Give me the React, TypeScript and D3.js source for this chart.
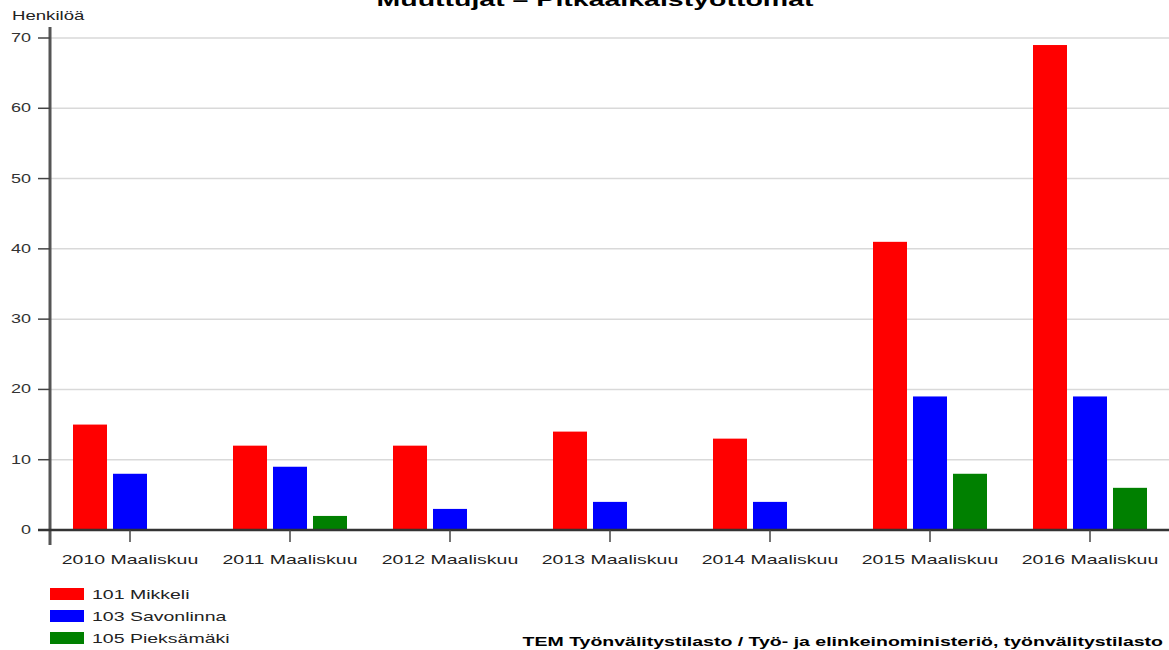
import React from 'react';
import * as d3 from 'd3';

const categories = [
  '2010 Maaliskuu',
  '2011 Maaliskuu',
  '2012 Maaliskuu',
  '2013 Maaliskuu',
  '2014 Maaliskuu',
  '2015 Maaliskuu',
  '2016 Maaliskuu',
];
const seriesNames = ['101 Mikkeli', '103 Savonlinna', '105 Pieksämäki'];
const mikkeli = [15, 12, 12, 14, 13, 41, 69];
const savonlinna = [8, 9, 3, 4, 4, 19, 19];
const pieksamaki = [0, 2, 0, 0, 0, 8, 6];
const yTicks = [0, 10, 20, 30, 40, 50, 60, 70];
const colors = ['#ff0000', '#0000ff', '#008000'];

const seriesValues = [mikkeli, savonlinna, pieksamaki];

const W = 1169;
const H = 650;
const font = 'Liberation Sans, Arial, sans-serif';
// the original picture is stretched sideways, so the text is too
const SX = 1.5;

type STextProps = {
  x: number;
  y: number;
  size: number;
  anchor?: 'start' | 'middle' | 'end';
  bold?: boolean;
  fill?: string;
  sx?: number;
  children: React.ReactNode;
};

const SText = ({ x, y, size, anchor = 'start', bold, fill = '#222', sx = SX, children }: STextProps) => (
  <text
    transform={`translate(${x},${y}) scale(${sx},1)`}
    textAnchor={anchor}
    fontSize={size}
    fontWeight={bold ? 'bold' : 'normal'}
    fill={fill}
  >
    {children}
  </text>
);

const App: React.FC = () => {
  const x = d3.scaleBand<string>().domain(categories).range([50, 1170]).padding(0);
  const inner = d3
    .scaleBand<string>()
    .domain(seriesNames)
    .range([23, 137])
    .paddingInner(0.15)
    .paddingOuter(0);
  const y = d3.scaleLinear().domain([0, 70]).range([530, 38]);

  return (
    <svg
      width={W}
      height={H}
      style={{ position: 'absolute', left: 0, top: 0, background: '#fff' }}
      fontFamily={font}
    >
      <SText x={595} y={6} size={19} anchor="middle" bold fill="#000">
        Muuttujat – Pitkäaikaistyöttömät
      </SText>
      <SText x={12} y={20} size={12} sx={1.55}>
        Henkilöä
      </SText>

      {/* gridlines */}
      {yTicks.filter(t => t > 0).map(t => (
        <line key={t} x1={50} x2={W} y1={y(t)} y2={y(t)} stroke="#d9d9d9" strokeWidth={1.5} />
      ))}

      {/* bars */}
      {categories.map((c, i) => (
        <g key={c} transform={`translate(${x(c)},0)`}>
          {seriesNames.map((s, j) => {
            const v = seriesValues[j][i];
            if (!v) return null;
            return (
              <rect
                key={s}
                x={inner(s)}
                y={y(v)}
                width={inner.bandwidth()}
                height={y(0) - y(v)}
                fill={colors[j]}
              />
            );
          })}
        </g>
      ))}

      {/* y axis */}
      <line x1={50} x2={50} y1={27} y2={545} stroke="#555" strokeWidth={3} />
      {yTicks.map(t => (
        <g key={t}>
          <line x1={38} x2={50} y1={y(t)} y2={y(t)} stroke="#444" strokeWidth={t === 0 ? 2 : 1.5} />
          <SText x={31} y={y(t) + 4} size={12} anchor="end" fill="#333">
            {t}
          </SText>
        </g>
      ))}

      {/* x axis */}
      <line x1={38} x2={W} y1={y(0)} y2={y(0)} stroke="#333" strokeWidth={2.5} />
      {categories.map(c => {
        const cx = (x(c) as number) + x.bandwidth() / 2;
        return (
          <g key={c}>
            <line x1={cx} x2={cx} y1={y(0)} y2={y(0) + 12} stroke="#444" strokeWidth={1.5} />
            <SText x={cx} y={564} size={13} anchor="middle">
              {c}
            </SText>
          </g>
        );
      })}

      {/* legend */}
      {seriesNames.map((s, j) => (
        <g key={s} transform={`translate(50,${588 + j * 22})`}>
          <rect x={0} y={0} width={34} height={12} fill={colors[j]} />
          <SText x={42} y={11} size={13}>
            {s}
          </SText>
        </g>
      ))}

      <SText x={1163} y={646} size={13} anchor="end" bold fill="#000">
        TEM Työnvälitystilasto / Työ- ja elinkeinoministeriö, työnvälitystilasto
      </SText>
    </svg>
  );
};

export default App;
